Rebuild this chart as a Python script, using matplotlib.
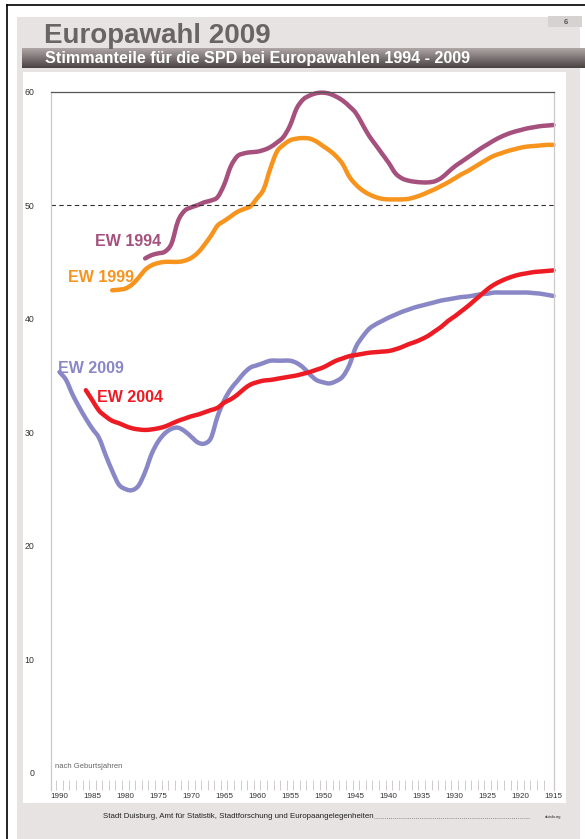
import numpy as np
import matplotlib
matplotlib.use("Agg")
import matplotlib.pyplot as plt
from matplotlib.patches import Rectangle, PathPatch
from matplotlib.lines import Line2D
from matplotlib.path import Path

plt.rcParams['font.family'] = ['Liberation Sans', 'DejaVu Sans']

# Stimmanteile der SPD nach Geburtsjahr (Anteil in %)
jahre_2009 = list(range(1990, 1914, -1))
ew_2009 = [35.3, 34.6, 33.3, 32.2, 31.2, 30.3, 29.5, 28.0, 26.6, 25.4,
           25.0, 24.9, 25.3, 26.5, 28.1, 29.2, 29.9, 30.3, 30.4, 30.1,
           29.6, 29.1, 29.0, 29.5, 31.4, 32.8, 33.8, 34.5, 35.2, 35.7,
           35.9, 36.1, 36.3, 36.3, 36.3, 36.3, 36.1, 35.7, 35.1, 34.6,
           34.4, 34.3, 34.5, 34.9, 35.9, 37.5, 38.4, 39.1, 39.5, 39.8,
           40.1, 40.35, 40.6, 40.8, 41.0, 41.15, 41.3, 41.45, 41.6, 41.7,
           41.8, 41.9, 41.95, 42.05, 42.15, 42.2, 42.3, 42.3, 42.3, 42.3,
           42.3, 42.3, 42.25, 42.2, 42.1, 42.0]

jahre_2004 = list(range(1986, 1914, -1))
ew_2004 = [33.7, 32.8, 31.9, 31.4, 31.0, 30.8, 30.55, 30.35, 30.25, 30.2,
           30.25, 30.35, 30.5, 30.75, 31.0, 31.2, 31.4, 31.55, 31.75, 31.95,
           32.15, 32.6, 32.9, 33.3, 33.8, 34.2, 34.4, 34.55, 34.6, 34.7,
           34.8, 34.9, 35.0, 35.15, 35.3, 35.5, 35.7, 36.0, 36.3, 36.5,
           36.7, 36.8, 36.9, 37.0, 37.05, 37.1, 37.15, 37.3, 37.5, 37.75,
           37.95, 38.2, 38.5, 38.9, 39.3, 39.8, 40.2, 40.65, 41.1, 41.6,
           42.1, 42.6, 43.0, 43.3, 43.55, 43.75, 43.9, 44.0, 44.1, 44.15,
           44.2, 44.25]

jahre_1999 = list(range(1982, 1914, -1))
ew_1999 = [42.5, 42.55, 42.65, 43.0, 43.6, 44.3, 44.7, 44.9, 45.0, 45.0,
           45.0, 45.1, 45.35, 45.8, 46.5, 47.3, 48.2, 48.6, 49.0, 49.4,
           49.65, 49.9, 50.6, 51.4, 53.2, 54.7, 55.3, 55.7, 55.85, 55.9,
           55.85, 55.6, 55.2, 54.8, 54.3, 53.6, 52.5, 51.8, 51.3, 50.95,
           50.7, 50.55, 50.5, 50.5, 50.5, 50.55, 50.7, 50.9, 51.15, 51.4,
           51.7, 52.0, 52.35, 52.7, 53.0, 53.35, 53.7, 54.05, 54.35, 54.55,
           54.75, 54.9, 55.05, 55.15, 55.2, 55.25, 55.3, 55.3]

jahre_1994 = list(range(1977, 1914, -1))
ew_1994 = [45.3, 45.6, 45.75, 45.9, 46.6, 48.6, 49.5, 49.8, 50.0, 50.25,
           50.4, 50.7, 51.8, 53.4, 54.3, 54.55, 54.65, 54.7, 54.85, 55.1,
           55.5, 56.0, 57.0, 58.5, 59.3, 59.65, 59.85, 59.9, 59.8, 59.55,
           59.2, 58.7, 58.1, 57.1, 56.1, 55.3, 54.5, 53.7, 52.8, 52.35,
           52.15, 52.05, 52.0, 52.0, 52.1, 52.4, 52.9, 53.4, 53.8, 54.2,
           54.6, 55.0, 55.35, 55.7, 56.0, 56.25, 56.45, 56.6, 56.75, 56.85,
           56.95, 57.0, 57.05]

serien = [
    ("EW 1994", jahre_1994, ew_1994, "#A5507D", (1984.6, 46.75)),
    ("EW 1999", jahre_1999, ew_1999, "#F7941E", (1988.7, 43.6)),
    ("EW 2009", jahre_2009, ew_2009, "#8A87C6", (1990.2, 35.65)),
    ("EW 2004", jahre_2004, ew_2004, "#ED1C24", (1984.3, 33.1)),
]

x_labels = list(range(1990, 1914, -5))
y_ticks = [0, 10, 20, 30, 40, 50, 60]

W, H = 585, 839
fig = plt.figure(figsize=(W / 100, H / 100), dpi=100)
fig.patch.set_facecolor("white")


def box(x0, y0, x1, y1, color, z=0):
    fig.add_artist(Rectangle((x0 / W, 1 - y1 / H), (x1 - x0) / W, (y1 - y0) / H,
                             transform=fig.transFigure, facecolor=color,
                             edgecolor="none", zorder=z))


def line(xs, ys, **kw):
    fig.add_artist(Line2D([x / W for x in xs], [1 - y / H for y in ys],
                          transform=fig.transFigure, **kw))


def smooth_path(x, y):
    # Excel-like smoothed line: cubic bezier segments through the data points
    x = np.asarray(x, float)
    y = np.asarray(y, float)
    pts = np.column_stack([x, y])
    ext = np.vstack([pts[0], pts, pts[-1]])
    verts = [pts[0]]
    codes = [Path.MOVETO]
    for i in range(len(pts) - 1):
        p0, p1, p2, p3 = ext[i], ext[i + 1], ext[i + 2], ext[i + 3]
        verts += [p1 + (p2 - p0) / 6, p2 - (p3 - p1) / 6, p2]
        codes += [Path.CURVE4] * 3
    return Path(verts, codes)


# page frame and panels
line([7, 585], [5, 5], color="black", lw=1.2)
line([7, 7], [5, 839], color="black", lw=1.2)
box(17, 17, 580, 839, "#E7E3E2")
box(548, 16, 582, 27, "#D6D2D1", z=1)
fig.text(566 / W, 1 - 22 / H, "6", fontsize=5.5, fontweight="bold",
         color="#5A5555", ha="center", va="center")
fig.text(44 / W, 1 - 36 / H, "Europawahl 2009", fontsize=20, fontweight="bold",
         color="#6B6464", ha="left", va="center")

# subtitle bar with gradient
bar = fig.add_axes([22 / W, 1 - 68 / H, (585 - 22) / W, 20 / H])
grad = np.linspace(0, 1, 64).reshape(-1, 1)
top = np.array([0xAE, 0xA7, 0xA6]) / 255
bot = np.array([0x4A, 0x42, 0x42]) / 255
img = top + (bot - top) * grad[..., None]
bar.imshow(np.repeat(img, 2, axis=1), aspect="auto", extent=[0, 1, 0, 1])
bar.set_axis_off()
fig.text(45 / W, 1 - 58.5 / H, "Stimmanteile für die SPD bei Europawahlen 1994 - 2009",
         fontsize=11.6, fontweight="bold", color="white", ha="left", va="center")

box(23, 72, 566, 803, "white", z=0.5)

# footer
fig.text(103 / W, 1 - 816 / H,
         "Stadt Duisburg, Amt für Statistik, Stadtforschung und Europaangelegenheiten",
         fontsize=5.7, color="#222222", ha="left", va="center")
line([374, 530], [818, 818], color="#777777", lw=0.6, linestyle=(0, (1, 1.5)))
fig.text(553 / W, 1 - 817 / H, "duisburg", fontsize=3.2, color="#333333",
         ha="center", va="center")

# chart
ax = fig.add_axes([51 / W, 1 - 790 / H, (554 - 51) / W, (790 - 91.5) / H])
ax.set_facecolor("white")
ax.set_zorder(2)

for name, jahre, werte, farbe, pos in serien:
    ax.add_patch(PathPatch(smooth_path(jahre, werte), fill=False, edgecolor=farbe,
                           lw=3.2, capstyle="round", joinstyle="round",
                           clip_on=False))
    ax.text(pos[0], pos[1], name, color=farbe, fontsize=11.5, fontweight="bold",
            ha="left", va="center")

ax.axhline(50, color="#333333", lw=0.8, linestyle=(0, (4, 3)))

ax.set_xlim(1991.29, 1914.92)
ax.set_ylim(-1.5, 60)

ax.set_xticks(x_labels)
ax.set_xticklabels([str(j) for j in x_labels], fontsize=5.8, color="#333333")
ax.set_xticks([j + 0.5 for j in range(1990, 1915, -1)], minor=True)
ax.tick_params(axis="x", which="major", length=0, pad=2)
ax.tick_params(axis="x", which="minor", direction="in", length=7, width=0.6,
               color="#C9C2C2")
ax.set_yticks(y_ticks)
ax.set_yticklabels([str(v) for v in y_ticks], fontsize=6.3, color="#333333")
ax.tick_params(axis="y", length=0, pad=12)

ax.spines["bottom"].set_visible(False)
ax.spines["left"].set_color("#CFC8C8")
ax.spines["right"].set_color("#CFC8C8")
ax.spines["top"].set_color("#555555")
for s in ax.spines.values():
    s.set_linewidth(0.9)

ax.text(1990.7, 0.6, "nach Geburtsjahren", fontsize=5.5, color="#666666",
        ha="left", va="center")

fig.savefig("out.png", dpi=100)
